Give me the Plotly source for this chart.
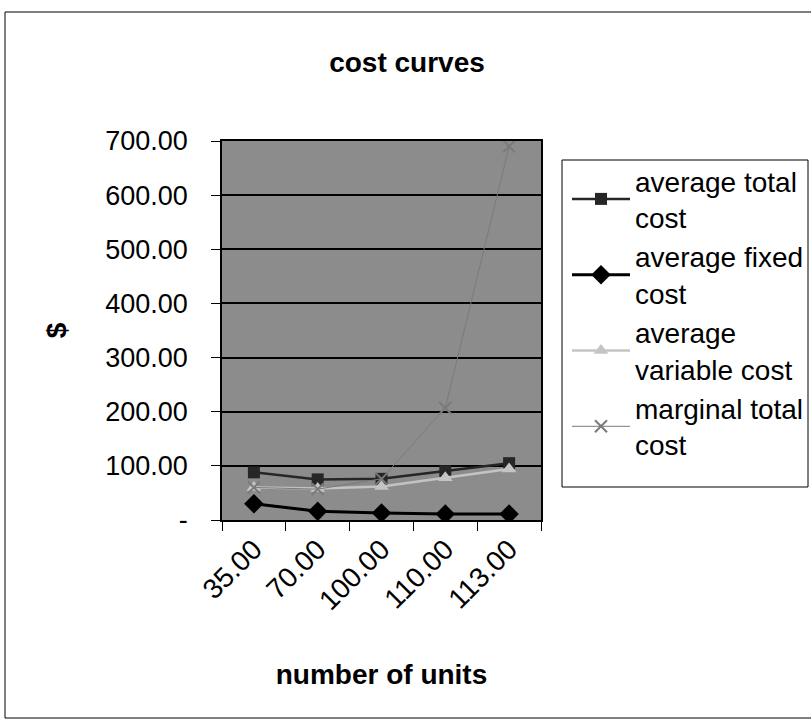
import plotly.graph_objects as go

# Output quantities and the cost per unit at each quantity
units = [35, 70, 100, 110, 113]
unit_labels = ["35.00", "70.00", "100.00", "110.00", "113.00"]

average_total_cost = [88, 75, 76, 90, 105]
average_fixed_cost = [30, 16, 13, 11, 11]
average_variable_cost = [60, 58, 62, 78, 94]
marginal_total_cost = [60, 57, 76, 207, 690]

y_ticks = [0, 100, 200, 300, 400, 500, 600, 700]
y_tick_labels = ["-", "100.00", "200.00", "300.00", "400.00", "500.00", "600.00", "700.00"]

FONT = "Liberation Sans, Arial, sans-serif"

fig = go.Figure()

fig.add_trace(go.Scatter(
    x=unit_labels, y=average_total_cost, name="average total<br>cost",
    mode="lines+markers",
    line=dict(color="#262626", width=2.5),
    marker=dict(symbol="square", size=12, color="#262626"),
))
fig.add_trace(go.Scatter(
    x=unit_labels, y=average_fixed_cost, name="average fixed<br>cost",
    mode="lines+markers",
    line=dict(color="#000000", width=3),
    marker=dict(symbol="diamond", size=15, color="#000000"),
))
fig.add_trace(go.Scatter(
    x=unit_labels, y=average_variable_cost, name="average<br>variable cost",
    mode="lines+markers",
    line=dict(color="#c4c4c4", width=2.5),
    marker=dict(symbol="triangle-up", size=13, color="#c4c4c4"),
))
fig.add_trace(go.Scatter(
    x=unit_labels, y=marginal_total_cost, name="marginal total<br>cost",
    mode="lines+markers",
    line=dict(color="#7a7a7a", width=1),
    marker=dict(symbol="x-thin", size=12, line=dict(color="#7a7a7a", width=2)),
))

# Plot area spans pixels x 222..541, y 141..520
L, R, T, B = 222, 270, 141, 203
W, H = 811, 723
pw, ph = W - L - R, H - T - B

def px_x(p):
    return (p - L) / pw

def px_y(p):
    return (H - B - p) / ph

fig.update_layout(
    width=W, height=H,
    margin=dict(l=L, r=R, t=T, b=B, autoexpand=False),
    paper_bgcolor="white",
    plot_bgcolor="#8c8c8c",
    font=dict(family=FONT, color="black", size=28),
    title=dict(text="<b>cost curves</b>", x=px_x(407), xref="paper", xanchor="center",
               y=1 - 62 / H, yanchor="middle", font=dict(size=28)),
    showlegend=True,
    legend=dict(
        x=px_x(567), y=px_y(156), xanchor="left", yanchor="top",
        bgcolor="rgba(0,0,0,0)", borderwidth=0,
        font=dict(size=28), itemwidth=58, tracegroupgap=0,
    ),
    xaxis=dict(
        type="category", range=[-0.5, 4.5],
        tickangle=-45, tickson="boundaries",
        ticks="outside", ticklen=9, tickcolor="black", tickwidth=1,
        showline=True, linecolor="black", linewidth=1.5, mirror=True,
        showgrid=False, zeroline=False,
        tickfont=dict(size=28),
        title=dict(text="<b>number of units</b>", font=dict(size=28), standoff=49),
    ),
    yaxis=dict(
        range=[0, 700], tickvals=y_ticks, ticktext=y_tick_labels,
        ticks="outside", ticklen=9, tickcolor="black", tickwidth=1,
        showline=True, linecolor="black", linewidth=1.5, mirror=True,
        showgrid=True, gridcolor="black", gridwidth=1.5,
        zeroline=False, ticklabelstandoff=18,
        tickfont=dict(size=27),
        title=dict(text="<b>$</b>", font=dict(size=28), standoff=30),
    ),
)

# Outer frame around the whole chart
fig.add_shape(type="rect", xref="paper", yref="paper",
              x0=px_x(5), x1=px_x(812), y0=px_y(718), y1=px_y(12),
              line=dict(color="black", width=1), layer="below")

# Legend box
fig.add_shape(type="rect", xref="paper", yref="paper",
              x0=px_x(562), x1=px_x(808), y0=px_y(487), y1=px_y(160),
              fillcolor="white", line=dict(color="black", width=1), layer="above")

fig.write_html("out.html")
